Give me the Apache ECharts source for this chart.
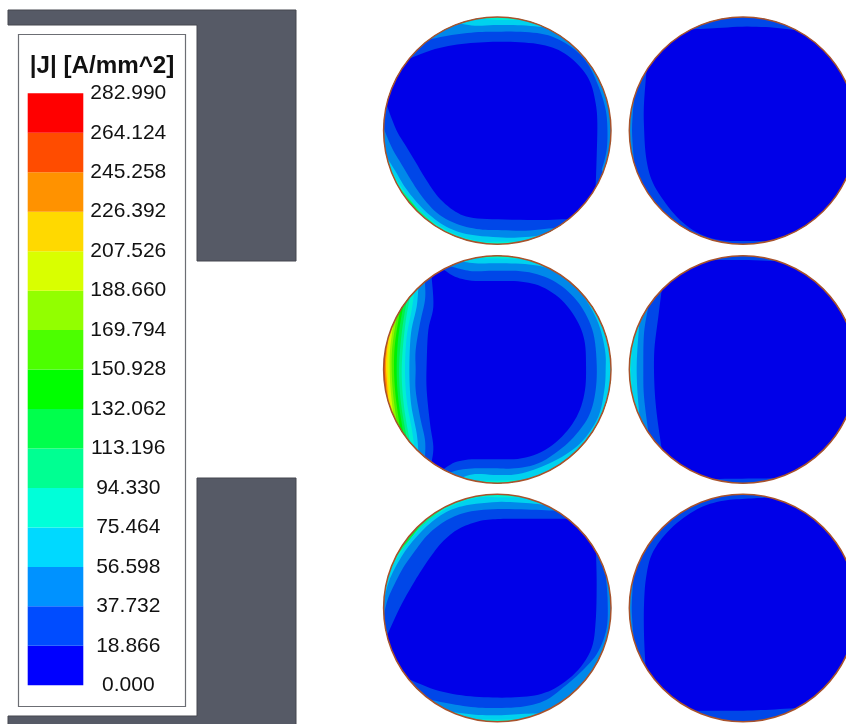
<!DOCTYPE html>
<html>
<head>
<meta charset="utf-8">
<style>html,body{margin:0;padding:0;background:#fff}#c{width:846px;height:724px}</style>
<script src="https://cdn.jsdelivr.net/npm/echarts@6/dist/echarts.min.js"></script>
</head>
<body>
<div id="c"></div>
<script>
// Legend scale
const legendTitle = '|J| [A/mm^2]';
const legendTicks = [0, 18.866, 37.732, 56.598, 75.464, 94.33, 113.196, 132.062, 150.928, 169.794, 188.66, 207.526, 226.392, 245.258, 264.124, 282.99];
const bandColors = ['#0000ff','#004cff','#0092ff','#00d9ff','#00ffd9','#00ff92','#00ff4c','#00ff00','#4cff00','#92ff00','#d9ff00','#ffd900','#ff9200','#ff4c00','#ff0000'];
const wireColors = ['#0000e8','#0047e8','#0088ea','#00d2ee','#00f0d2','#00f092','#00f04c','#00f000','#4cf000','#92f400','#d9f800','#ffd900','#ff9200','#ff4c00','#f00000'];

// Conductor cross sections
const wireRadius = 113.7;
const wireCenters = [[497.3,130.6],[497.3,369.5],[497.3,608],[743,130.6],[743,369.5],[743,608]];
const wireOrigins = [[375,10],[375,250],[375,488],[620,10],[620,250],[620,488]];

// Slot iron outline
const ironShapes = [
  [[8,10],[296,10],[296,261],[197,261],[197,25],[8,25]],
  [[197,478],[296,478],[296,730],[8,730],[8,716],[197,716]]
];
const legendFrame = [[18.5,34.5],[185.5,34.5],[185.5,706.5],[18.5,706.5]];

// a contour that only bites into the left side of a conductor: everything to its right is below the level
const leftCut = pts => pts.concat([[pts[pts.length-1][0],950],[950,950],[950,-250],[pts[0][0],-250]]);

// Iso-|J| contours, per conductor, from the 18.866 level upward (read in crop units of 1/3 px)
const wireAContours = [
  [[105,145],[180,117],[260,102],[340,96],[420,96],[500,104],[560,125],[610,165],[645,215],[662,280],[667,340],[665,440],[662,527],[800,700],[580,640],[580,628],[500,630],[369,628],[284,622],[234,600],[189,560],[154,510],[124,460],[94,410],[64,360],[35,285],[-60,200]],
  [[165,88],[230,75],[300,67],[367,65],[450,66],[520,76],[580,105],[630,150],[665,215],[690,290],[697,350],[695,420],[680,480],[850,800],[545,655],[530,655],[450,662],[369,660],[314,658],[254,645],[194,615],[149,570],[114,520],[84,470],[54,420],[32,370],[27,355],[-80,200],[80,-60]],
  [[250,40],[300,47],[367,45],[440,46],[510,52],[850,0],[850,800],[505,675],[440,682],[369,682],[274,672],[214,650],[164,615],[124,575],[89,530],[59,480],[34,440],[-100,300],[100,-100],[250,-50]],
  [[315,26],[367,30],[420,30],[450,31],[850,50],[850,800],[445,720],[445,697],[430,695],[369,695],[324,695],[274,685],[224,665],[174,635],[134,600],[99,560],[69,515],[45,475],[-100,300],[100,-100],[315,-50]],
  [[70,530],[99,560],[129,597],[159,625],[189,653],[189,950],[950,950],[950,-250],[-250,-250],[-250,530]],
  [[90,560],[105,572],[120,590],[135,612],[135,950],[950,950],[950,-250],[-250,-250],[-250,560]]
];
const wireBContours = [
  [[205,58],[240,80],[290,92],[367,93],[440,95],[500,110],[560,150],[605,210],[628,270],[633,340],[630,420],[610,490],[570,550],[510,600],[440,625],[367,628],[290,628],[240,637],[205,658],[190,690],[170,636],[175,590],[165,520],[155,420],[155,340],[160,240],[175,170],[170,82],[190,30]],
  [[225,48],[260,58],[300,64],[367,62],[450,65],[520,85],[580,125],[625,180],[655,250],[665,340],[662,420],[645,490],[610,545],[560,595],[490,640],[420,655],[367,655],[300,655],[250,660],[225,668],[190,720],[150,621],[150,570],[135,500],[122,420],[122,358],[122,300],[135,220],[150,150],[150,98],[190,-10]],
  [[260,34],[300,40],[367,40],[450,42],[520,55],[580,85],[630,145],[670,220],[690,300],[692,358],[688,420],[670,500],[625,570],[570,615],[500,650],[430,672],[367,675],[300,672],[260,683],[200,760],[130,603],[125,550],[108,460],[103,358],[108,250],[125,170],[130,113],[200,-40]],
  [[300,24],[367,25],[430,26],[850,0],[850,750],[430,690],[367,692],[300,692],[200,780],[118,591],[110,535],[95,450],[90,358],[95,260],[110,180],[118,125],[200,-60]],
  leftCut([[105,140],[90,230],[80,358],[87,470],[105,576]]),
  leftCut([[95,152],[80,250],[72,358],[78,460],[95,564]]),
  leftCut([[85,166],[70,260],[65,358],[70,450],[85,550]]),
  leftCut([[75,182],[60,280],[57,358],[62,440],[75,535]]),
  leftCut([[65,200],[52,290],[50,358],[54,430],[65,516]]),
  leftCut([[55,221],[45,300],[44,358],[47,420],[55,495]]),
  leftCut([[47,240],[39,310],[38,358],[41,410],[47,476]]),
  leftCut([[40,262],[34,320],[33,358],[36,400],[40,454]]),
  leftCut([[34,285],[30,330],[29,358],[31,390],[34,431]]),
  leftCut([[29,320],[27,358],[29,395]])
];
const wireCContours = [
  [[37,440],[74,360],[104,305],[134,255],[164,210],[199,165],[239,130],[279,110],[324,97],[369,93],[420,92],[500,92],[578,92],[640,100],[663,192],[665,290],[662,400],[650,480],[610,545],[550,595],[490,620],[420,628],[340,628],[260,622],[180,605],[105,575],[20,520]],
  [[27,378],[38,335],[54,298],[84,240],[119,190],[154,145],[194,110],[239,85],[289,70],[369,63],[470,65],[540,68],[800,100],[693,268],[698,340],[695,420],[670,490],[630,540],[575,590],[515,635],[450,655],[367,660],[300,658],[230,648],[165,635],[50,650],[-50,500]],
  [[26,340],[40,285],[60,240],[90,190],[124,147],[164,107],[214,72],[274,52],[367,42],[440,44],[505,50],[800,0],[800,800],[495,676],[440,678],[367,682],[300,680],[230,672],[50,800],[-100,500]],
  [[45,247],[69,207],[99,162],[134,122],[174,87],[224,57],[274,37],[324,27],[367,28],[420,28],[450,29],[800,0],[800,800],[430,694],[367,695],[300,694],[50,800],[-100,500]],
  [[65,202],[90,175],[125,130],[160,100],[205,60],[205,-250],[950,-250],[950,950],[-250,950],[-250,202]],
  [[78,180],[100,160],[125,128],[140,106],[140,-250],[950,-250],[950,950],[-250,950],[-250,180]]
];
const wireDContours = [
  [[215,58],[280,55],[367,50],[450,52],[525,60],[900,0],[900,800],[450,693],[367,693],[300,690],[240,672],[180,630],[130,570],[95,510],[78,440],[72,350],[72,280],[80,175],[-50,-50]],
  leftCut([[42,265],[36,360],[42,455]])
];
const wireEContours = [
  [[275,30],[367,30],[465,33],[900,0],[900,800],[465,685],[367,686],[275,687],[100,800],[125,597],[110,490],[103,400],[103,300],[115,200],[125,120],[100,-50]],
  leftCut([[85,170],[72,250],[70,358],[72,440],[85,547]]),
  leftCut([[58,218],[52,300],[50,358],[52,420],[58,498]]),
  leftCut([[36,300],[33,358],[36,415]])
];
const wireFContours = [
  [[450,29],[900,0],[900,800],[530,660],[450,665],[370,668],[300,668],[225,668],[100,700],[76,528],[72,440],[72,350],[78,270],[95,200],[135,140],[190,90],[250,55],[310,38],[367,33],[420,30]],
  leftCut([[40,270],[35,360],[40,440]])
];
const wireContours = [wireAContours, wireBContours, wireCContours, wireDContours, wireEContours, wireFContours];

const wireItems = [];
wireContours.forEach((list, w) => {
  wireItems.push([w, -1]);
  for (let k = list.length - 1; k >= 0; k--) wireItems.push([w, k]);
  wireItems.push([w, -2]);
});

// Rounds a contour with a Catmull-Rom curve; the stretches that run outside the conductor stay straight.
function roundContour(pts, c, r) {
  const n = pts.length, out = [];
  const far = p => Math.hypot(p[0] - c[0], p[1] - c[1]) > r * 1.06;
  for (let i = 0; i < n; i++) {
    const p1 = pts[i], p2 = pts[(i + 1) % n];
    if (far(p1) || far(p2)) { out.push(p1); continue; }
    let p0 = pts[(i - 1 + n) % n], p3 = pts[(i + 2) % n];
    if (far(p0)) p0 = p1;
    if (far(p3)) p3 = p2;
    for (let s = 0; s < 6; s++) {
      const t = s / 6, t2 = t * t, t3 = t2 * t;
      out.push([0, 1].map(d => 0.5 * (2 * p1[d] + (p2[d] - p0[d]) * t
        + (2 * p0[d] - 5 * p1[d] + 4 * p2[d] - p3[d]) * t2
        + (3 * p1[d] - p0[d] - 3 * p2[d] + p3[d]) * t3)));
    }
  }
  return out;
}

const chart = echarts.init(document.getElementById('c'), null, {renderer: 'canvas'});
const noAxis = {show: false};
chart.setOption({
  animation: false,
  backgroundColor: '#ffffff',
  title: {
    text: legendTitle, left: 97, top: 49, textAlign: 'center', z: 12,
    textStyle: {fontFamily: 'Liberation Sans', fontWeight: 'bold', fontSize: 24.2, color: '#111111'}
  },
  grid: [
    {left: 0, top: 0, width: 846, height: 724},
    {left: 27.7, top: 93.3, width: 55.6, height: 592}
  ],
  xAxis: [
    Object.assign({type: 'value', min: 0, max: 846, gridIndex: 0}, noAxis),
    Object.assign({type: 'value', min: 0, max: 1, gridIndex: 1}, noAxis)
  ],
  yAxis: [
    Object.assign({type: 'value', min: 0, max: 724, inverse: true, gridIndex: 0}, noAxis),
    {
      type: 'value', min: 0, max: 282.99, gridIndex: 1, position: 'right', z: 12,
      axisLine: {show: false}, axisTick: {show: false}, splitLine: {show: false},
      axisLabel: {
        show: true, customValues: legendTicks, margin: 45, align: 'center',
        fontFamily: 'Liberation Sans', fontSize: 21, color: '#111111', padding: [5, 0, 0, 0],
        formatter: v => Number(v).toFixed(3), showMinLabel: true, showMaxLabel: true
      }
    }
  ],
  series: [
    {
      type: 'custom', xAxisIndex: 0, yAxisIndex: 0, z: 1, silent: true, clip: false,
      data: ironShapes.map((s, i) => [i]),
      renderItem(params, api) {
        return {type: 'polygon', shape: {points: ironShapes[api.value(0)].map(p => api.coord(p))},
          style: {fill: '#565a66', stroke: '#44474f', lineWidth: 1}};
      }
    },
    {
      type: 'custom', xAxisIndex: 0, yAxisIndex: 0, z: 2, silent: true, clip: false,
      data: [[0]],
      renderItem(params, api) {
        return {type: 'polygon', shape: {points: legendFrame.map(p => api.coord(p))},
          style: {fill: '#ffffff', stroke: '#6c6e74', lineWidth: 1.2}};
      }
    },
    {
      type: 'custom', xAxisIndex: 1, yAxisIndex: 1, z: 3, silent: true, clip: false,
      data: bandColors.map((c, i) => [i]),
      renderItem(params, api) {
        const i = api.value(0);
        const a = api.coord([0, legendTicks[i + 1]]);
        const b = api.coord([1, legendTicks[i]]);
        return {type: 'rect', shape: {x: a[0], y: a[1], width: b[0] - a[0], height: b[1] - a[1]},
          style: {fill: bandColors[i]}};
      }
    },
    {
      type: 'custom', xAxisIndex: 0, yAxisIndex: 0, z: 4, silent: true, clip: false,
      data: wireItems,
      renderItem(params, api) {
        const w = api.value(0), k = api.value(1);
        const c = api.coord(wireCenters[w]);
        const r = api.size([wireRadius, 0])[0];
        if (k === -2) {
          return {type: 'circle', shape: {cx: c[0], cy: c[1], r},
            style: {fill: null, stroke: '#a8522c', lineWidth: 1.5}};
        }
        if (k === -1) {
          return {type: 'circle', shape: {cx: c[0], cy: c[1], r},
            style: {fill: wireColors[wireContours[w].length]}};
        }
        const o = wireOrigins[w];
        const raw = wireContours[w][k].map(p => api.coord([o[0] + p[0] / 3, o[1] + p[1] / 3]));
        return {type: 'polygon', shape: {points: roundContour(raw, c, r)},
          style: {fill: wireColors[k]},
          clipPath: {type: 'circle', shape: {cx: c[0], cy: c[1], r}}};
      }
    }
  ]
});
</script>
</body>
</html>
